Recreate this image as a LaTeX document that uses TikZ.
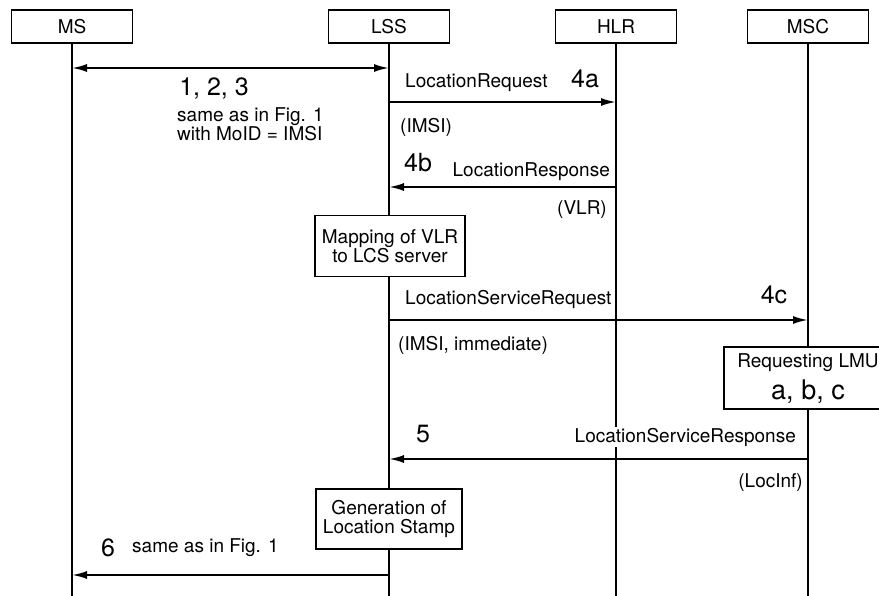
\documentclass[tikz,border=0pt]{standalone}
\usepackage{fontspec}
\setmainfont{TeX Gyre Heros}
\usetikzlibrary{arrows.meta}
\newcommand{\txtsize}{\fontsize{19}{19}\selectfont}
\newcommand{\numsize}{\fontsize{25}{25}\selectfont}
\tikzset{
	head/.style={draw, line width=1.4pt, minimum width=121pt, minimum height=33pt, inner sep=0pt, font=\txtsize},
	lifeline/.style={line width=1.3pt},
	tip/.style={-{Latex[length=15pt,width=8pt]}},
	msg/.style={line width=2pt, tip},
	lbl/.style={inner sep=1pt, fill=white, font=\txtsize},
	num/.style={inner sep=1pt, font=\numsize},
	task/.style={draw, fill=white, line width=1.5pt, align=center, inner sep=0pt, font=\fontsize{19}{18.5}\selectfont}
}
\begin{document}
\begin{tikzpicture}[x=1pt, y=-1pt]
	% 879 x 596, y downwards
	\useasboundingbox (0,0) rectangle (879,596);
	% heads
	\node[head] (ms) at (72,26.5) {MS};
	\node[head] (lss) at (389,26.5) {LSS};
	\node[head] (hlr) at (616,26.5) {HLR};
	\node[head] (msc) at (808,26.5) {MSC};
	% lifelines and message points
	\foreach \p in {ms,lss,hlr,msc}
	{
		\coordinate (\p-end) at (\p.south |- 0,596);
		\draw[lifeline] (\p) -- (\p-end);
		\foreach \n/\y in {m1/68, m4a/102, m4b/187, m4c/320, m5/459, m6/575}
			\coordinate (\p-\n) at (\p.south |- 0,\y);
	}
	% 1, 2, 3
	\draw[msg, {Latex[length=15pt,width=8pt]}-{Latex[length=15pt,width=8pt]}] (ms-m1) -- (lss-m1);
	\node[num] (n1) at (214,88) {1, 2, 3};
	\node[lbl, anchor=west, align=left, font=\fontsize{19}{15.5}\selectfont] (l1) at (176,124.5) {same as in Fig. 1\\with MoID = IMSI};
	% 4a
	\draw[msg] (lss-m4a) -- (hlr-m4a);
	\node[lbl, anchor=west] (l4a) at (404,83) {LocationRequest};
	\node[num] (n4a) at (585,79) {4a};
	\node[lbl, anchor=west] (p4a) at (399,127) {(IMSI)};
	% 4b
	\draw[msg] (hlr-m4b) -- (lss-m4b);
	\node[num] (n4b) at (418,163) {4b};
	\node[lbl, anchor=east] (l4b) at (611,172) {LocationResponse};
	\node[lbl, anchor=east] (p4b) at (608,210) {(VLR)};
	\node[task, minimum width=150pt, minimum height=61pt] (map) at (390,246) {Mapping of VLR\\to LCS server};
	% 4c
	\draw[msg] (lss-m4c) -- (msc-m4c);
	\node[lbl, anchor=west] (l4c) at (404,299) {LocationServiceRequest};
	\node[num] (n4c) at (774,295) {4c};
	\node[lbl, anchor=west] (p4c) at (397,345) {(IMSI, immediate)};
	\node[task, minimum width=168pt, minimum height=62pt] (lmu) at (808,378) {};
	\node[lbl, fill=none] (llmu) at (808,363) {Requesting LMU};
	\node[num, font=\fontsize{27}{27}\selectfont] (nlmu) at (808,392) {a, b, c};
	% 5
	\draw[msg] (msc-m5) -- (lss-m5);
	\node[num] (n5) at (423,434) {5};
	\node[lbl, anchor=east] (l5) at (797,437) {LocationServiceResponse};
	\node[lbl, anchor=east] (p5) at (804,483) {(LocInf)};
	\node[task, minimum width=146pt, minimum height=60pt] (gen) at (389,519) {Generation of\\Location Stamp};
	% 6
	\draw[msg] (lss-m6) -- (ms-m6);
	\node[num] (n6) at (108,548) {6};
	\node[lbl, anchor=west] (l6) at (131,548) {same as in Fig. 1};
\end{tikzpicture}
\end{document}
